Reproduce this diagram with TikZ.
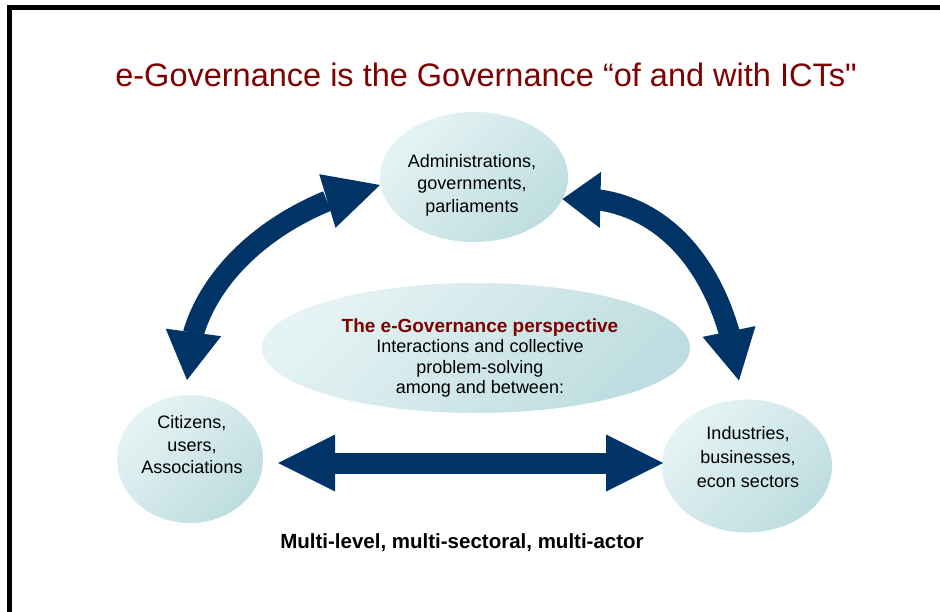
\documentclass[tikz,border=0pt]{standalone}
\usepackage{fontspec}
\setmainfont{Liberation Sans}[Ligatures=TeXOff]
\usetikzlibrary{arrows.meta,bending,shapes.geometric}
\definecolor{navy}{HTML}{003366}
\definecolor{maroon}{HTML}{800000}
\definecolor{bublight}{HTML}{E6F3F4}
\definecolor{bubdark}{HTML}{BEDDE0}
\begin{document}
\begin{tikzpicture}[x=1pt,y=-1pt,
  bubble/.style={ellipse, inner sep=0pt, outer sep=0pt,
    top color=bublight, bottom color=bubdark, shading angle=45},
  bubtext/.style={align=center, inner sep=0pt, text=black},
  bigarrow/.style={draw=navy, line width=21pt}]
  \useasboundingbox (0,0) rectangle (940,612);
  \fill[white] (0,0) rectangle (940,612);
  % frame: left and top edges only
  \draw[line width=5pt, line join=miter] (9.5,612) -- (9.5,7.5) -- (940,7.5);

  % title
  \node[text=maroon, font=\fontsize{32.5}{36}\selectfont, inner sep=0pt] (title) at (486,75)
    {e-Governance is the Governance “of and with ICTs"};

  % bubbles
  \node[bubble, minimum width=188pt, minimum height=130pt] (adm) at (474,177) {};
  \node[bubble, minimum width=428pt, minimum height=130pt] (pers) at (476,348) {};
  \node[bubble, minimum width=146pt, minimum height=128pt] (cit) at (190,459) {};
  \node[bubble, minimum width=170pt, minimum height=133pt] (ind) at (747,466) {};

  % bubble texts
  \node[bubtext, font=\fontsize{18}{22.5}\selectfont] (admtxt) at (472,185)
    {Administrations,\\governments,\\parliaments};
  \node[bubtext, font=\fontsize{18}{20.5}\selectfont] (perstxt) at (480,358)
    {\textcolor{maroon}{\bfseries\fontsize{19}{20.5}\selectfont The e-Governance perspective}\\
     Interactions and collective\\problem-solving\\among and between:};
  \node[bubtext, font=\fontsize{18}{22.5}\selectfont] (cittxt) at (192,445)
    {Citizens,\\users,\\Associations};
  \node[bubtext, font=\fontsize{18}{24}\selectfont] (indtxt) at (748,457)
    {Industries,\\businesses,\\econ sectors};

  % double-headed arrows between the actors
  \draw[bigarrow,
    {Triangle[length=55pt,width=56pt,line width=0pt]}-{Triangle[length=48pt,width=56pt,line width=0pt]}]
    ([yshift=-8pt]adm.west) .. controls +(-99,20) and +(-2,-100) ..
    ([shift={(-3pt,15pt)}]cit.north);
  \draw[bigarrow,
    {Triangle[length=38pt,width=56pt,line width=0pt]}-{Triangle[length=50pt,width=54pt,line width=0pt]}]
    (adm.-14) .. controls +(99,-9) and +(-14,-110) ..
    ([shift={(-8pt,19pt)}]ind.north);
  \draw[bigarrow,
    {Triangle[length=57pt,width=57pt,line width=0pt]}-{Triangle[length=57pt,width=57pt,line width=0pt]}]
    ([shift={(15pt,-4pt)}]cit.east) -- ([shift={(1pt,3pt)}]ind.west);

  % caption
  \node[font=\bfseries\fontsize{20.5}{24}\selectfont, inner sep=0pt] (caption) at (462,543)
    {Multi-level, multi-sectoral, multi-actor};
\end{tikzpicture}
\end{document}
